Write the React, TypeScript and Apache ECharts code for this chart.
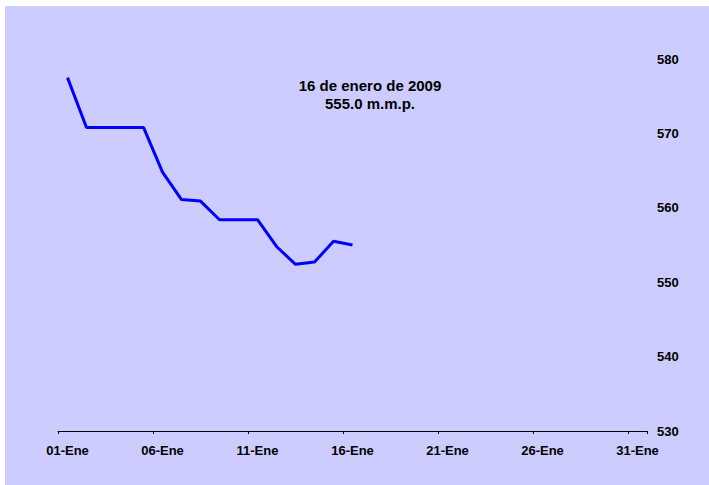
import React, { useEffect, useRef } from "react";
import * as echarts from "echarts";

const categories: string[] = [
  "01-Ene", "02-Ene", "03-Ene", "04-Ene", "05-Ene", "06-Ene", "07-Ene", "08-Ene",
  "09-Ene", "10-Ene", "11-Ene", "12-Ene", "13-Ene", "14-Ene", "15-Ene", "16-Ene",
  "17-Ene", "18-Ene", "19-Ene", "20-Ene", "21-Ene", "22-Ene", "23-Ene", "24-Ene",
  "25-Ene", "26-Ene", "27-Ene", "28-Ene", "29-Ene", "30-Ene", "31-Ene",
];

const values: (number | null)[] = [
  577.5, 570.8, 570.8, 570.8, 570.8, 564.8, 561.1, 560.9,
  558.4, 558.4, 558.4, 554.8, 552.4, 552.7, 555.5, 555.0,
];

const annotationLines: string[] = ["16 de enero de 2009", "555.0 m.m.p."];

const yMin = 530;
const yMax = 580;
const yInterval = 10;

export default function App() {
  const ref = useRef<HTMLDivElement>(null);
  useEffect(() => {
    if (!ref.current) return;
    const chart = echarts.init(ref.current, undefined, { renderer: "svg" });
    const font = "Arial, 'Liberation Sans', sans-serif";
    chart.setOption({
      animation: false,
      backgroundColor: "#ffffff",
      graphic: [
        {
          type: "rect",
          z: -100,
          shape: { x: 5, y: 6, width: 704, height: 479 },
          style: { fill: "#CCCCFF" },
          silent: true,
        },
        {
          type: "text",
          z: 10,
          x: 370,
          y: 76,
          style: {
            text: annotationLines.join("\n"),
            font: `bold 15px ${font}`,
            fill: "#000000",
            align: "center",
            verticalAlign: "top",
            lineHeight: 18,
          },
        },
      ],
      grid: { left: 58, right: 62, top: 59, bottom: 54, containLabel: false },
      xAxis: {
        type: "category",
        data: categories,
        boundaryGap: true,
        axisLine: { show: true, lineStyle: { color: "#000000", width: 1 } },
        axisTick: { show: true, interval: 4, length: 3, inside: false, lineStyle: { color: "#000000" } },
        axisLabel: {
          interval: 4,
          color: "#000000",
          fontWeight: "bold",
          fontSize: 13,
          fontFamily: font,
          margin: 13,
        },
        splitLine: { show: false },
      },
      yAxis: {
        type: "value",
        position: "right",
        min: yMin,
        max: yMax,
        interval: yInterval,
        axisLine: { show: false },
        axisTick: { show: false },
        splitLine: { show: false },
        axisLabel: {
          color: "#000000",
          fontWeight: "bold",
          fontSize: 13,
          fontFamily: font,
          margin: 10,
        },
      },
      series: [
        {
          type: "line",
          data: values,
          symbol: "none",
          lineStyle: { color: "#0000FF", width: 3 },
          itemStyle: { color: "#0000FF" },
        },
      ],
    });
    return () => chart.dispose();
  }, []);
  return (
    <div
      ref={ref}
      style={{ position: "fixed", left: 0, top: 0, width: 709, height: 485 }}
    />
  );
}
